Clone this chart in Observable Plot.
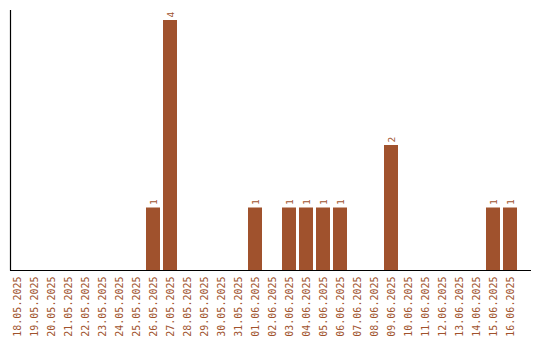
<!DOCTYPE html>
<html>
<head>
<meta charset="utf-8">
<script src="https://cdn.jsdelivr.net/npm/d3@7"></script>
<script src="https://cdn.jsdelivr.net/npm/@observablehq/plot@0.6"></script>
<style>
  html, body { margin: 0; padding: 0; background: #fff; }
  #chart svg { display: block; }
</style>
</head>
<body>
<div id="chart"></div>
<script>
const dates = [
  "18.05.2025","19.05.2025","20.05.2025","21.05.2025","22.05.2025","23.05.2025",
  "24.05.2025","25.05.2025","26.05.2025","27.05.2025","28.05.2025","29.05.2025",
  "30.05.2025","31.05.2025","01.06.2025","02.06.2025","03.06.2025","04.06.2025",
  "05.06.2025","06.06.2025","07.06.2025","08.06.2025","09.06.2025","10.06.2025",
  "11.06.2025","12.06.2025","13.06.2025","14.06.2025","15.06.2025","16.06.2025"
];
const counts = [
  0,0,0,0,0,0,
  0,0,1,4,0,0,
  0,0,1,0,1,1,
  1,1,0,0,2,0,
  0,0,0,0,1,1
];
const barColor = "#A0522D";

const data = dates.map((d, i) => ({date: d, count: counts[i]}));

// left axis line along the frame edge
function leftLine(index, scales, values, dims) {
  const g = d3.create("svg:g");
  g.append("line")
    .attr("x1", dims.marginLeft + 0.5).attr("x2", dims.marginLeft + 0.5)
    .attr("y1", dims.marginTop).attr("y2", dims.height - dims.marginBottom + 0.5)
    .attr("stroke", "#000").attr("stroke-width", 1.2);
  return g.node();
}

const chart = Plot.plot({
  width: 540,
  height: 340,
  marginLeft: 10,
  marginRight: 23,
  marginTop: 10,
  marginBottom: 70,
  style: {background: "#fff", fontFamily: "'DejaVu Sans Mono', monospace"},
  x: {domain: dates, paddingInner: 0.2, paddingOuter: 0, axis: null},
  y: {domain: [0, 4.16], axis: null},
  marks: [
    Plot.barY(data, {x: "date", y: "count", fill: barColor}),
    Plot.text(data.filter(d => d.count > 0), {
      x: "date", y: "count", text: d => String(d.count),
      rotate: -90, textAnchor: "start", lineAnchor: "middle",
      dy: -3, fill: barColor, fontSize: 9.5
    }),
    Plot.axisX({
      tickRotate: -90, tickSize: 0, tickPadding: 6, label: null,
      fontSize: 10, fill: barColor
    }),
    leftLine,
    Plot.ruleY([0], {insetRight: -14, stroke: "#000", strokeWidth: 1.2})
  ]
});
document.getElementById("chart").appendChild(chart);
</script>
</body>
</html>
